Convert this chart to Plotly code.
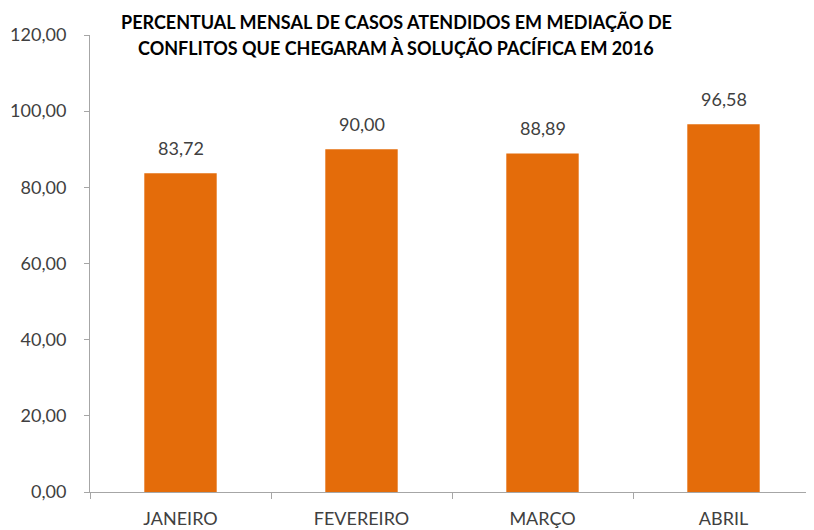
import plotly.graph_objects as go

categories = ["JANEIRO", "FEVEREIRO", "MARÇO", "ABRIL"]
values = [83.72, 90.00, 88.89, 96.58]
ytick_vals = [0, 20, 40, 60, 80, 100, 120]
title_lines = ["PERCENTUAL MENSAL DE CASOS ATENDIDOS EM MEDIAÇÃO DE",
               "CONFLITOS QUE CHEGARAM À SOLUÇÃO PACÍFICA EM 2016"]

FONT = "Lato"
AXIS_COLOR = "#a6a6a6"
TEXT_COLOR = "#404040"

# plot area in page pixels (page body has an 8px margin)
PX_L, PX_R, PX_T, PX_B = 90, 814, 35, 492

fig = go.Figure()
fig.add_trace(go.Bar(
    x=categories, y=values,
    marker=dict(color="#E46C0A", line=dict(width=0)),
    width=0.4,
    hoverinfo="skip",
))

annotations = []
for c, v in zip(categories, values):
    annotations.append(dict(
        x=c, y=v, xref="x", yref="y",
        text=f"{v:.2f}".replace(".", ","),
        showarrow=False, yanchor="bottom", yshift=12,
        font=dict(family=FONT, size=18, color=TEXT_COLOR),
    ))
title_centers = [22, 48]
for line, yc in zip(title_lines, title_centers):
    annotations.append(dict(
        x=(396 - PX_L) / (PX_R - PX_L), y=(PX_B - yc) / (PX_B - PX_T),
        xref="paper", yref="paper", xanchor="center", yanchor="middle",
        text=f"<b>{line}</b>", showarrow=False,
        font=dict(family=FONT, size=18, color="#000000"),
    ))

fig.update_layout(
    width=806, height=522,
    margin=dict(l=PX_L - 8, r=0, t=PX_T - 8, b=530 - PX_B),
    paper_bgcolor="white", plot_bgcolor="white",
    showlegend=False,
    separators=",.",
    annotations=annotations,
    font=dict(family=FONT, color=TEXT_COLOR),
)
fig.update_xaxes(
    type="category", tickson="boundaries",
    ticks="outside", ticklen=6, tickcolor=AXIS_COLOR, tickwidth=1,
    showline=True, linecolor=AXIS_COLOR, linewidth=1,
    showgrid=False, zeroline=False,
    tickfont=dict(family=FONT, size=18, color=TEXT_COLOR),
    range=[-0.5, 3.5], fixedrange=True,
    ticklabelstandoff=10,
    automargin=False,
)
fig.update_yaxes(
    range=[0, 120], tickvals=ytick_vals, tickformat=".2f",
    ticks="outside", ticklen=5, tickcolor=AXIS_COLOR, tickwidth=1,
    showline=True, linecolor=AXIS_COLOR, linewidth=1,
    showgrid=False, zeroline=False,
    tickfont=dict(family=FONT, size=18, color=TEXT_COLOR),
    ticklabelstandoff=14,
    automargin=False,
)

fig.write_html("out.html")
